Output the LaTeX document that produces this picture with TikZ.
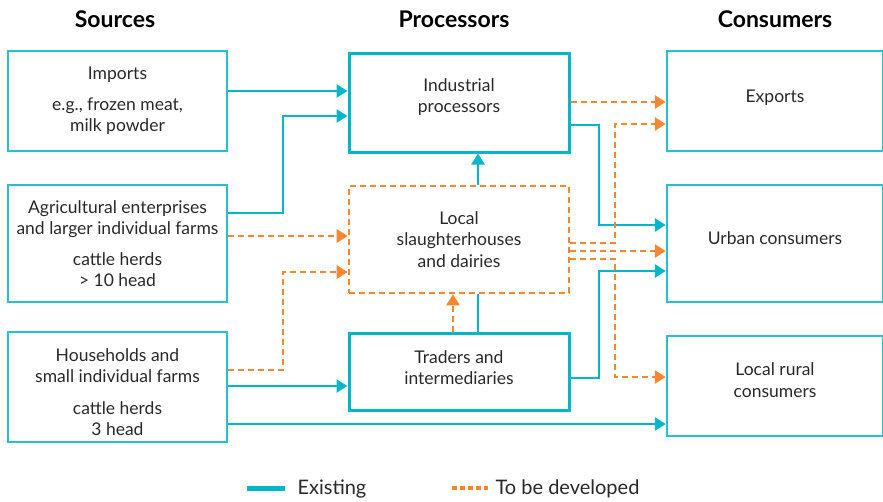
\documentclass[tikz,border=0pt]{standalone}
\usepackage{fontspec}
\setmainfont{Lato}
\usetikzlibrary{arrows.meta}

\definecolor{teal}{RGB}{0,182,200}
\definecolor{orng}{RGB}{245,135,50}
\definecolor{txt}{RGB}{40,40,40}

% shift a centred block of lines without changing the node size
\newcommand{\liftlines}[2]{\raisebox{#1}[\height][\depth]{\parbox{210pt}{\centering #2}}}

\begin{document}
\begin{tikzpicture}[x=1pt, y=-1pt, >={Triangle[length=11pt,width=13pt]},
  every node/.style={text=txt, font=\fontsize{17.5}{21.5}\selectfont, align=center},
  head/.style={font=\fontsize{23}{26}\selectfont\bfseries, text=black},
  srcbox/.style={draw=teal!85, line width=1.8pt, minimum width=219pt},
  procbox/.style={draw=teal, line width=3pt, minimum width=220pt},
  devbox/.style={draw=orng, line width=2.6pt, dash pattern=on 6pt off 4pt,
    minimum width=220pt},
  consbox/.style={draw=teal!85, line width=1.8pt, minimum width=214pt},
  exist/.style={draw=teal, line width=2.8pt},
  dev/.style={draw=orng, line width=2.8pt, dash pattern=on 6pt off 4pt}]
  \useasboundingbox (0,0) rectangle (883,501);

  % column headings
  \node[head] (hsrc) at (115,19) {Sources};
  \node[head] (hproc) at (454,19) {Processors};
  \node[head] (hcons) at (775,19) {Consumers};

  % sources
  \node[srcbox, minimum height=100pt] (imp) at (117.5,101)
    {Imports\\[9pt] e.g., frozen meat,\\ milk powder};
  \node[srcbox, minimum height=117pt] (agr) at (117.5,243.5)
    {Agricultural enterprises\\ and larger individual farms\\[9pt]
     cattle herds\\ > 10 head};
  \node[srcbox, minimum height=110pt] (hh) at (117.5,387)
    {\liftlines{-5pt}{Households and\\ small individual farms\\[10pt]
     cattle herds\\ 3 head}};

  % processors
  \node[procbox, minimum height=99pt] (ind) at (459,102.5)
    {\liftlines{5.5pt}{Industrial\\ processors}};
  \node[devbox, minimum height=107pt] (loc) at (459,239.5)
    {Local\\ slaughterhouses\\ and dairies};
  \node[procbox, minimum height=77pt] (trd) at (459,371.5)
    {\liftlines{4pt}{Traders and\\ intermediaries}};

  % consumers
  \node[consbox, minimum height=100pt] (exp) at (775,101)
    {\liftlines{3pt}{Exports}};
  \node[consbox, minimum height=117pt] (urb) at (775,243.5)
    {\liftlines{5pt}{Urban consumers}};
  \node[consbox, minimum height=100pt] (rur) at (775,386)
    {\liftlines{6pt}{Local rural\\ consumers}};

  % existing flows
  \draw[exist, ->] (imp.east |- 0,91) -- (ind.west |- 0,91);
  \draw[exist, ->] (agr.east |- 0,213) -| (283,116) -- (ind.west |- 0,116);
  \draw[exist, ->] (hh.east |- 0,386) -- (trd.west |- 0,386);
  \draw[exist, ->] (hh.east |- 0,424) -- (rur.west |- 0,424);
  \draw[exist] (trd.north -| 478,0) -- (loc.south -| 478,0);
  \draw[exist, ->] (loc.north -| 478,0) -- (ind.south -| 478,0);
  \draw[exist, ->] (ind.east |- 0,125) -| (599,225) -- (urb.west |- 0,225);
  \draw[exist, ->] (trd.east |- 0,378) -| (599,271) -- (urb.west |- 0,271);

  % flows to be developed
  \draw[dev, ->] (agr.east |- 0,236) -- (loc.west |- 0,236);
  \draw[dev, ->] (hh.east |- 0,370) -| (283,272) -- (loc.west |- 0,272);
  \draw[dev, ->] (trd.north -| 453,0) -- (loc.south -| 453,0);
  \draw[dev, ->] (ind.east |- 0,102) -- (exp.west |- 0,102);
  \draw[dev, ->] (loc.east |- 0,243) -| (615,124) -- (exp.west |- 0,124);
  \draw[dev, ->] (loc.east |- 0,251) -- (urb.west |- 0,251);
  \draw[dev, ->] (loc.east |- 0,259) -| (615,377) -- (rur.west |- 0,377);

  % legend
  \coordinate (lgea) at (247,488);
  \coordinate (lgeb) at (285,488);
  \coordinate (lgda) at (452,488);
  \coordinate (lgdb) at (488,488);
  \draw[exist, line width=5pt] (lgea) -- (lgeb);
  \node[anchor=west, font=\fontsize{20}{24}\selectfont] (lgetxt) at (294,489) {Existing};
  \draw[dev, line width=4pt, dash pattern=on 4.5pt off 3.5pt] (lgda) -- (lgdb);
  \node[anchor=west, font=\fontsize{20}{24}\selectfont] (lgdtxt) at (492,489) {To be developed};
\end{tikzpicture}
\end{document}
